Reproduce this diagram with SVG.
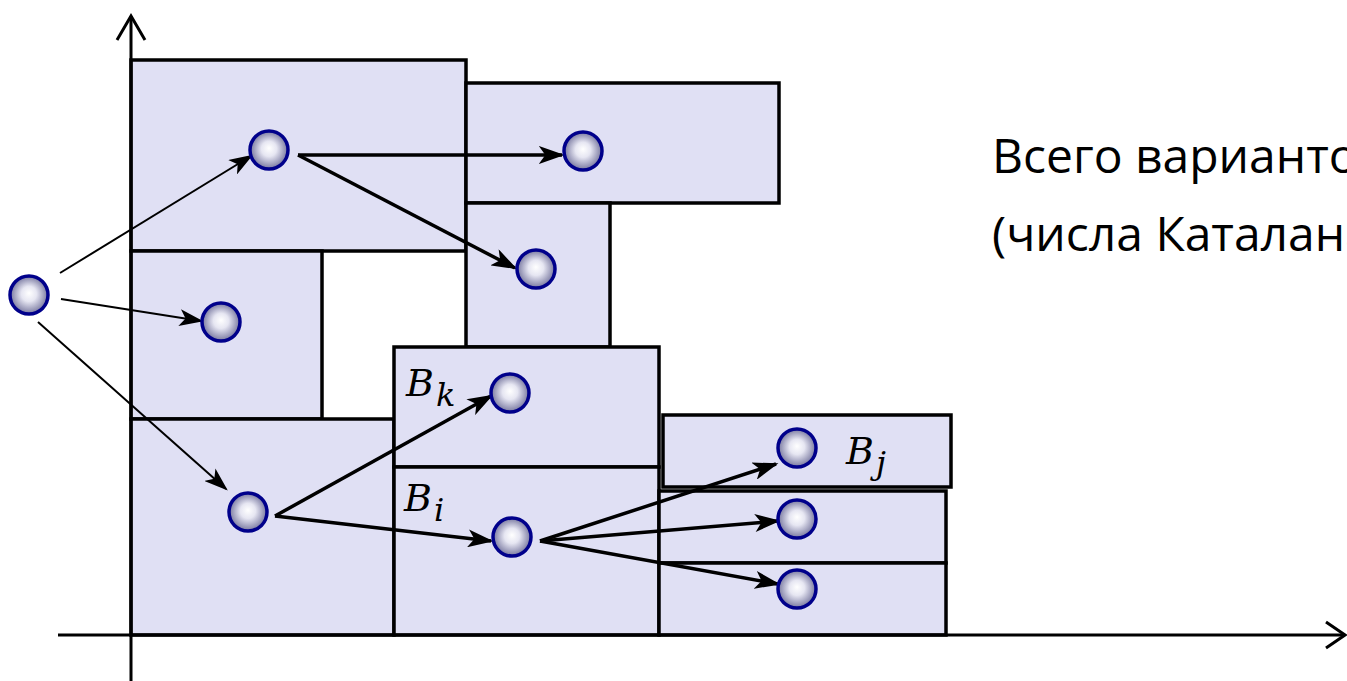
<svg xmlns="http://www.w3.org/2000/svg" width="1347" height="681" viewBox="0 0 1347 681">
<defs>
<radialGradient id="ball" cx="0.5" cy="0.5" r="0.5" fx="0.5" fy="0.45">
<stop offset="0" stop-color="#ffffff"/>
<stop offset="0.4" stop-color="#e6e6f2"/>
<stop offset="1" stop-color="#76769e"/>
</radialGradient>
<marker id="ah" viewBox="0 0 20 14" refX="18" refY="7" markerWidth="26" markerHeight="18" markerUnits="userSpaceOnUse" orient="auto">
<path d="M0,0 L20,7 L0,14 L5,7 Z" fill="#000"/>
</marker>
<marker id="ahs" viewBox="0 0 20 14" refX="18" refY="7" markerWidth="24" markerHeight="17" markerUnits="userSpaceOnUse" orient="auto">
<path d="M0,0 L20,7 L0,14 L5,7 Z" fill="#000"/>
</marker>
</defs>
<style>
.box{fill:#e0e0f4;stroke:#000;stroke-width:3.5}
.node{fill:url(#ball);stroke:#00008b;stroke-width:3.5}
.ax{stroke:#000;stroke-width:3;fill:none}
.e{stroke:#000;stroke-width:3.5;fill:none;marker-end:url(#ah)}
.t{stroke:#000;stroke-width:2;fill:none;marker-end:url(#ahs)}
.lbl{font-family:"DejaVu Serif","Liberation Serif",serif;font-style:italic;font-size:38px;fill:#000}
.sub{font-size:32px}
.txt{font-family:"Open Sans","Noto Sans",sans-serif;font-size:48px;fill:#000}
</style>
<rect width="1347" height="681" fill="#fff"/>
<g id="boxes">
<rect id="b1" class="box" x="131" y="60" width="335" height="191"/>
<rect id="b2" class="box" x="466" y="83" width="313" height="120"/>
<rect id="b3" class="box" x="466" y="203" width="144" height="144"/>
<rect id="b4" class="box" x="131" y="251" width="191" height="168"/>
<rect id="b5" class="box" x="131" y="419" width="263" height="216"/>
<rect id="bk" class="box" x="394" y="347" width="265" height="120"/>
<rect id="bi" class="box" x="394" y="467" width="265" height="168"/>
<rect id="bj" class="box" x="663" y="415" width="288" height="72"/>
<rect id="b9" class="box" x="659" y="491" width="287" height="72"/>
<rect id="b10" class="box" x="659" y="563" width="287" height="72"/>
</g>
<g id="axes">
<line class="ax" x1="131" y1="16" x2="131" y2="681"/>
<polyline class="ax" points="117,40 131,16 145,40"/>
<line class="ax" x1="58" y1="635" x2="1345" y2="635"/>
<polyline class="ax" points="1326,622 1345,635 1326,648"/>
</g>
<g id="connectors">
<line class="t" x1="60" y1="273" x2="251" y2="156"/>
<line class="t" x1="61" y1="299" x2="201" y2="321"/>
<line class="t" x1="38" y1="322" x2="226" y2="489"/>
<line class="e" x1="298" y1="155" x2="562" y2="155"/>
<line class="e" x1="298" y1="155" x2="515" y2="268"/>
<line class="e" x1="275" y1="516" x2="491" y2="396"/>
<line class="e" x1="275" y1="516" x2="491" y2="541"/>
<line class="e" x1="540" y1="541" x2="776" y2="464"/>
<line class="e" x1="540" y1="541" x2="778" y2="521"/>
<line class="e" x1="540" y1="541" x2="778" y2="584"/>
</g>
<g id="n0"><circle class="node" cx="29" cy="295" r="19"/></g>
<g id="n1"><circle class="node" cx="269" cy="150" r="19"/></g>
<g id="n2"><circle class="node" cx="583" cy="151" r="19"/></g>
<g id="n3"><circle class="node" cx="536" cy="269" r="19"/></g>
<g id="n4"><circle class="node" cx="221" cy="322" r="19"/></g>
<g id="n5"><circle class="node" cx="248" cy="512" r="19"/></g>
<g id="n6"><circle class="node" cx="510" cy="393" r="19"/></g>
<g id="n7"><circle class="node" cx="512" cy="537" r="19"/></g>
<g id="n8"><circle class="node" cx="797" cy="448" r="19"/></g>
<g id="n9"><circle class="node" cx="797" cy="519" r="19"/></g>
<g id="n10"><circle class="node" cx="797" cy="589" r="19"/></g>
<g id="labels">
<text class="lbl" x="406" y="396">B<tspan class="sub" dx="2" dy="10">k</tspan></text>
<text class="lbl" x="404" y="511">B<tspan class="sub" dx="2" dy="10">i</tspan></text>
<text class="lbl" x="846" y="464">B<tspan class="sub" dx="2" dy="10">j</tspan></text>
<text class="txt" x="992" y="173">Всего вариантов</text>
<text class="txt" x="992" y="251">(числа Каталана</text>
</g>
</svg>
